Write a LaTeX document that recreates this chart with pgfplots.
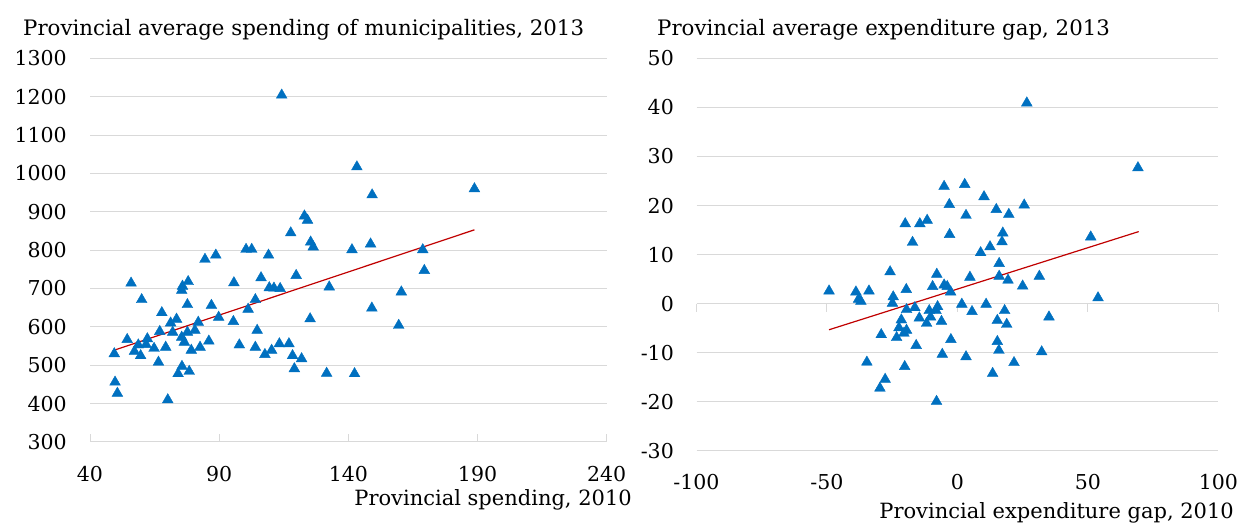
\documentclass[border=0pt]{standalone}
\usepackage{pgfplots}
\pgfplotsset{compat=1.18}
\usepackage{fontspec}
\setmainfont{DejaVu Serif}
\definecolor{ptblue}{RGB}{0,112,192}
\definecolor{trendred}{RGB}{192,0,0}
\definecolor{gridgray}{RGB}{217,217,217}

% spending: 2010 vs 2013
\pgfplotstableread{
x y
114.2 1204
143.3 1017
149.2 944
188.8 960
123.0 889
124.2 878
117.7 845
125.4 821
126.4 808
141.4 801
100.4 802
102.6 802
109.1 787
88.7 787
84.5 776
148.6 816
168.8 801
49.4 530
49.7 456
50.6 427
70.1 410
55.9 714
60.0 671
67.8 637
54.4 567
58.7 553
62.2 569
61.7 554
57.2 536
59.6 525
64.8 544
66.5 508
67.0 588
69.3 547
71.2 610
73.5 620
72.0 586
75.5 695
75.8 706
78.0 718
77.7 658
75.5 573
76.5 560
77.7 586
80.6 591
81.9 612
79.2 539
82.6 547
75.6 497
74.1 478
78.4 484
87.0 656
86.0 563
89.8 625
95.7 715
95.5 614
97.8 553
101.2 646
104.0 671
106.2 728
104.7 591
104.0 547
107.7 528
110.3 539
109.4 702
111.2 701
113.6 700
113.3 556
117.0 556
118.4 525
119.1 491
121.9 517
119.8 734
125.2 621
131.6 479
132.6 704
142.4 478
169.4 747
160.5 691
149.1 649
159.5 604
}\spending

% expenditure gap: 2010 vs 2013
\pgfplotstableread{
x y
26.6 40.9
69.2 27.7
-5.1 23.9
2.8 24.3
-3.1 20.2
10.2 21.8
3.3 18.0
14.9 19.2
19.7 18.2
25.6 20.1
-20.0 16.3
-14.4 16.3
-11.6 17.0
-3.0 14.1
-17.2 12.5
17.4 14.4
17.1 12.6
12.5 11.6
8.9 10.4
51.1 13.6
16.0 8.2
-25.8 6.5
-7.9 6.0
4.8 5.4
16.0 5.6
31.4 5.6
19.4 4.8
25.0 3.6
-49.2 2.6
-38.9 2.4
-37.9 0.9
-37.0 0.5
-33.9 2.6
-24.6 1.4
-24.9 0.1
-19.6 2.9
-9.5 3.5
-5.1 3.8
-3.9 3.5
-2.6 2.4
53.9 1.2
1.7 -0.1
11.0 -0.1
5.6 -1.6
18.1 -1.4
-19.5 -1.2
-16.3 -0.8
-21.5 -3.3
-14.6 -2.9
-10.8 -1.4
-10.3 -2.7
-7.6 -0.6
-8.2 -1.4
-11.8 -4.0
-6.1 -3.6
-22.4 -4.9
-19.5 -5.4
-20.5 -6.0
-29.2 -6.3
-23.3 -6.9
-15.8 -8.5
-2.5 -7.3
-5.8 -10.3
-34.7 -11.9
-20.2 -12.8
-27.7 -15.4
-29.7 -17.2
-8.0 -19.9
15.3 -3.4
18.9 -4.2
35.1 -2.7
15.3 -7.7
15.9 -9.5
3.3 -10.8
32.3 -9.8
21.7 -12.0
13.5 -14.2
}\gap

\pgfplotsset{
  panel/.style={
    scale only axis,
    anchor=south west,
    axis line style={draw=none},
    ymajorgrids=true,
    grid style={gridgray, line width=1pt},
    ytick style={draw=none},
    tick label style={font=\fontsize{20.5}{24}\selectfont, inner sep=0pt},
    yticklabel style={anchor=east},
    xticklabel style={anchor=center},
    clip=false,
  },
  dots/.style={only marks, mark=triangle*, mark size=6.2pt,
    mark options={draw=ptblue, fill=ptblue}},
}

\begin{document}
\begin{tikzpicture}
\path[use as bounding box] (0,0) rectangle (1244pt,527pt);

\begin{axis}[panel,
  at={(90pt,85pt)}, width=516.7pt, height=383.7pt,
  xmin=40, xmax=240, ymin=300, ymax=1300,
  xtick={40,90,140,190,240},
  xticklabels={40,90,140,190,240},
  ytick={300,400,...,1300},
  yticklabels={300,400,500,600,700,800,900,1000,1100,1200,1300},
  xtick pos=left, xtick align=inside,
  major tick length=8pt,
  xtick style={gridgray, line width=1pt},
  yticklabel shift=23pt,
  xticklabel shift=32pt,
]
\addplot[dots] table[x=x, y=y] {\spending};
\addplot[trendred, line width=1.2pt] coordinates {(49.7,540) (188.8,853)};
\end{axis}

\begin{axis}[panel,
  at={(696.5pt,76pt)}, width=521.8pt, height=392.7pt,
  xmin=-100, xmax=100, ymin=-30, ymax=50,
  xtick={-100,-50,0,50,100},
  xticklabels={-100,-50,0,50,100},
  ytick={-30,-20,...,50},
  yticklabels={-30,-20,-10,0,10,20,30,40,50},
  xtick style={draw=none},
  yticklabel shift=22.5pt,
  xticklabel shift=31pt,
]
\pgfplotsinvokeforeach{-100,-50,0,50,100}{
  \draw[gridgray, line width=1pt] (axis cs:#1,0) -- ++(0pt,-8pt);
}
\addplot[dots] table[x=x, y=y] {\gap};
\addplot[trendred, line width=1.2pt] coordinates {(-49.2,-5.3) (69.5,14.7)};
\end{axis}

\node[anchor=base west, inner sep=0pt, font=\fontsize{21.3}{25}\selectfont]
  at (23pt,491pt) {Provincial average spending of municipalities, 2013};
\node[anchor=base west, inner sep=0pt, font=\fontsize{21.3}{25}\selectfont]
  at (657pt,491pt) {Provincial average expenditure gap, 2013};
\node[anchor=east, inner sep=0pt, font=\fontsize{21}{25}\selectfont]
  at (632pt,27pt) {Provincial spending, 2010};
\node[anchor=east, inner sep=0pt, font=\fontsize{21}{25}\selectfont]
  at (1234pt,14pt) {Provincial expenditure gap, 2010};
\end{tikzpicture}
\end{document}
